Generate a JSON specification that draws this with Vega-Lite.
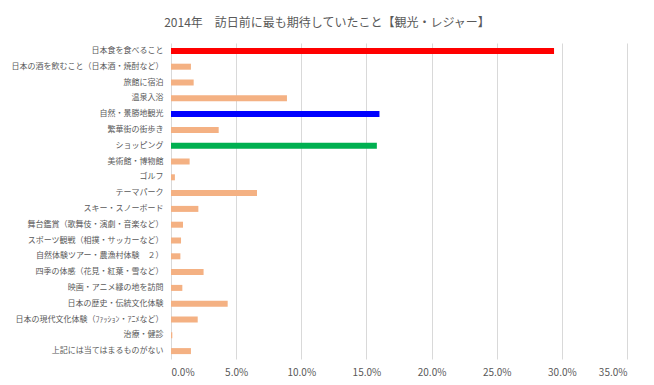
{
  "$schema": "https://vega.github.io/schema/vega-lite/v6.json",
  "width": 456,
  "height": 316,
  "autosize": {"type": "none"},
  "padding": {"left": 171, "top": 43, "right": 27, "bottom": 26},
  "background": "white",
  "title": {
    "text": "2014年　訪日前に最も期待していたこと【観光・レジャー】",
    "font": "Noto Sans CJK JP",
    "fontSize": 12,
    "fontWeight": "normal",
    "color": "#595959",
    "anchor": "middle",
    "dx": -72,
    "offset": 13
  },
  "config": {
    "view": {"stroke": null},
    "font": "Noto Sans CJK JP"
  },
  "data": {
    "values": [
      {"item": "日本食を食べること", "value": 0.294},
      {"item": "日本の酒を飲むこと（日本酒・焼酎など）", "value": 0.0153},
      {"item": "旅館に宿泊", "value": 0.0174},
      {"item": "温泉入浴", "value": 0.089},
      {"item": "自然・景勝地観光", "value": 0.160},
      {"item": "繁華街の街歩き", "value": 0.0366},
      {"item": "ショッピング", "value": 0.158},
      {"item": "美術館・博物館", "value": 0.0143},
      {"item": "ゴルフ", "value": 0.003},
      {"item": "テーマパーク", "value": 0.066},
      {"item": "スキー・スノーボード", "value": 0.021},
      {"item": "舞台鑑賞（歌舞伎・演劇・音楽など）", "value": 0.0092},
      {"item": "スポーツ観戦（相撲・サッカーなど）", "value": 0.0077},
      {"item": "自然体験ツアー・農漁村体験　２）", "value": 0.0072},
      {"item": "四季の体感（花見・紅葉・雪など）", "value": 0.025},
      {"item": "映画・アニメ縁の地を訪問", "value": 0.0087},
      {"item": "日本の歴史・伝統文化体験", "value": 0.0435},
      {"item": "日本の現代文化体験（ﾌｧｯｼｮﾝ・ｱﾆﾒなど）", "value": 0.0205},
      {"item": "治療・健診", "value": 0.001},
      {"item": "上記には当てはまるものがない", "value": 0.0153}
    ]
  },
  "mark": {"type": "bar"},
  "encoding": {
    "y": {
      "field": "item",
      "type": "nominal",
      "sort": null,
      "scale": {"paddingInner": 0.62, "paddingOuter": 0.31},
      "axis": {
        "title": null,
        "ticks": false,
        "domain": false,
        "grid": false,
        "labelFontSize": 8,
        "labelColor": "#595959",
        "labelPadding": 8,
        "labelLimit": 200
      }
    },
    "x": {
      "field": "value",
      "type": "quantitative",
      "scale": {"domain": [0, 0.35], "nice": false},
      "axis": {
        "title": null,
        "format": ".1%",
        "values": [0, 0.05, 0.1, 0.15, 0.2, 0.25, 0.3, 0.35],
        "ticks": false,
        "domain": false,
        "grid": true,
        "gridColor": "#d9d9d9",
        "labelFontSize": 10,
        "labelColor": "#595959",
        "labelPadding": 8
      }
    },
    "color": {
      "condition": [
        {"test": "datum.item === '日本食を食べること'", "value": "#FF0000"},
        {"test": "datum.item === '自然・景勝地観光'", "value": "#0000FF"},
        {"test": "datum.item === 'ショッピング'", "value": "#00B050"}
      ],
      "value": "#F4B183"
    }
  }
}
